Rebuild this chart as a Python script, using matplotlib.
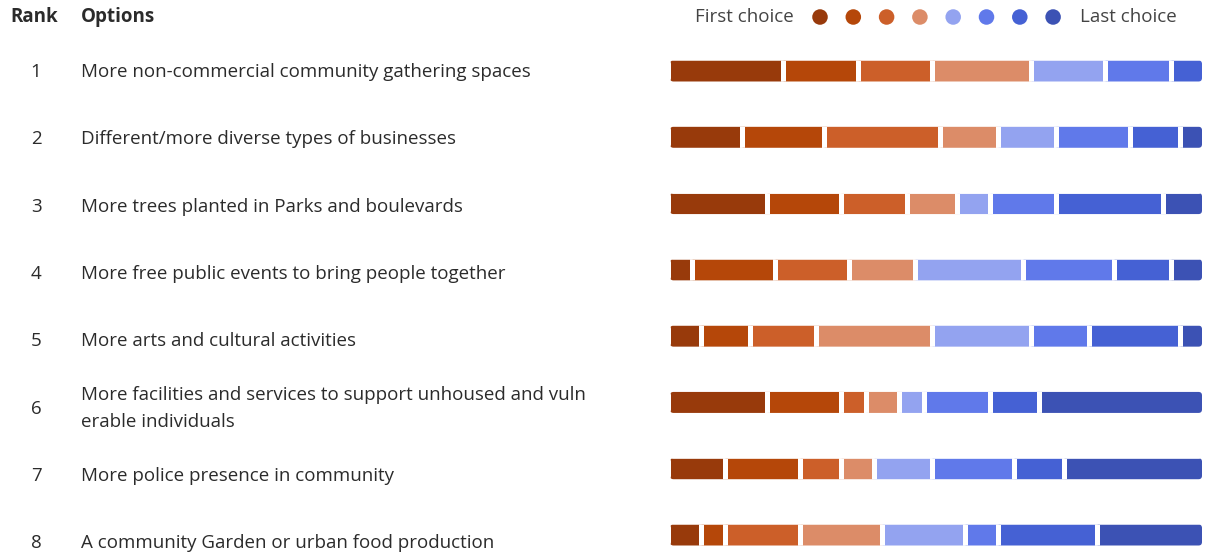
import numpy as np
import matplotlib.pyplot as plt
from matplotlib.patches import FancyBboxPatch

ranks = [1, 2, 3, 4, 5, 6, 7, 8]
options = [
    "More non-commercial community gathering spaces",
    "Different/more diverse types of businesses",
    "More trees planted in Parks and boulevards",
    "More free public events to bring people together",
    "More arts and cultural activities",
    "More facilities and services to support unhoused and vuln\nerable individuals",
    "More police presence in community",
    "A community Garden or urban food production",
]
# number of people who put each option in position 1..8
choice_1 = [14, 9, 12, 3, 4, 12, 7, 4]
choice_2 = [9, 10, 9, 10, 6, 9, 9, 3]
choice_3 = [9, 14, 8, 9, 8, 3, 5, 9]
choice_4 = [12, 7, 6, 8, 14, 4, 4, 10]
choice_5 = [9, 7, 4, 13, 12, 3, 7, 10]
choice_6 = [8, 9, 8, 11, 7, 8, 10, 4]
choice_7 = [4, 6, 13, 7, 11, 6, 6, 12]
choice_8 = [0, 3, 5, 4, 3, 20, 17, 13]
colors = ["#983A0B", "#B54709", "#CC5F29", "#DC8C68",
          "#93A3F0", "#6079EA", "#4561D4", "#3C52B4"]

W, H = 1207, 560
fig = plt.figure(figsize=(W / 100, H / 100), dpi=100)
plt.rcParams['font.family'] = ['Open Sans', 'DejaVu Sans']

# text / legend layer in pixel coordinates
tx = fig.add_axes([0, 0, 1, 1])
tx.set_xlim(0, W)
tx.set_ylim(H, 0)
tx.axis('off')

txt = "#2b2b2b"
fs = 13.5
tx.text(10, 17, "Rank", fontsize=fs, fontweight='bold', color=txt, va='center')
tx.text(81, 17, "Options", fontsize=fs, fontweight='bold', color=txt, va='center')
for i, (r, lab) in enumerate(zip(ranks, options)):
    y = 72 + i * 67.3
    tx.text(36, y, str(r), fontsize=fs, color=txt, va='center', ha='center')
    tx.text(81, y, lab, fontsize=fs, color=txt, va='center', linespacing=1.62)

tx.text(695, 17, "First choice", fontsize=fs, color="#444444", va='center')
tx.text(1080, 17, "Last choice", fontsize=fs, color="#444444", va='center')
dots_x = 820 + 33.3 * np.arange(len(colors))
tx.scatter(dots_x, [17] * len(colors), s=125, c=colors, linewidths=0)

# bar layer
x0_px, w_px = 667.5, 537
top_px, bot_px = 40, 555
ax = fig.add_axes([x0_px / W, 1 - bot_px / H, w_px / W, (bot_px - top_px) / H])
series = np.array([choice_1, choice_2, choice_3, choice_4,
                   choice_5, choice_6, choice_7, choice_8])
totals = series.sum(axis=0)
ax.set_xlim(0, totals.max())
ax.set_ylim(7 + (bot_px - 535) / 66.3, -(71 - top_px) / 66.3)
ax.axis('off')

px_x = w_px / totals.max()     # pixels per count
px_y = 66.3                    # pixels per row
bar_h = 26 / px_y
gap_lw = 3.6                   # white edge -> ~5 px gaps

# rounded clip box per row
clips = []
for i, tot in enumerate(totals):
    dx, dy = 2.5 / px_x, 2.5 / px_y
    box = FancyBboxPatch((dx, i - bar_h / 2 + dy), tot - 2 * dx, bar_h - 2 * dy,
                         boxstyle="round,pad=0,rounding_size=%f" % (3.5 / px_x),
                         mutation_aspect=px_x / px_y,
                         transform=ax.transData, facecolor='none', edgecolor='none')
    ax.add_patch(box)
    clips.append(box)

ypos = np.arange(len(ranks))
left = np.zeros(len(ranks))
for vals, col in zip(series, colors):
    bars = ax.barh(ypos, vals, left=left, height=bar_h, color=col,
                   edgecolor='white', linewidth=gap_lw)
    for b, c in zip(bars, clips):
        b.set_clip_path(c)
    left += vals

fig.savefig("out.png", dpi=100)
